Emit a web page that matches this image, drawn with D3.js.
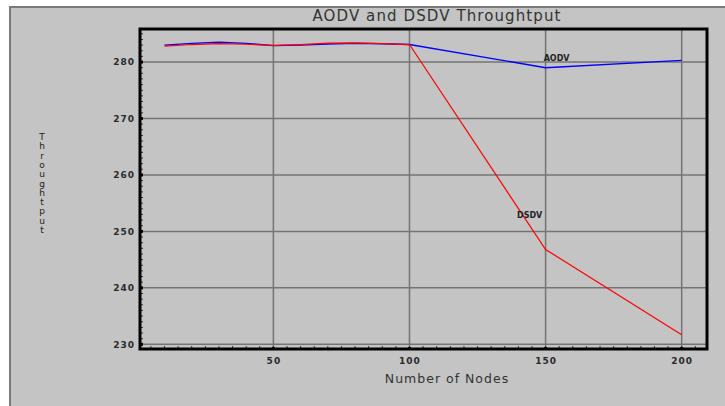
<!DOCTYPE html>
<html>
<head>
<meta charset="utf-8">
<script src="https://cdn.jsdelivr.net/npm/d3@7.9.0/dist/d3.min.js"></script>
<style>
  html, body { margin: 0; padding: 0; background: #fff; }
  svg { display: block; font-family: "DejaVu Sans", sans-serif; }
</style>
</head>
<body>
<svg id="chart" width="725" height="406"></svg>
<script>
const nodes = [10, 20, 30, 40, 50, 60, 70, 80, 90, 100, 150, 200];
const aodv = [283.0, 283.3, 283.5, 283.3, 282.9, 283.0, 283.2, 283.3, 283.25, 283.1, 279.0, 280.3];
const dsdv = [282.8, 283.1, 283.25, 283.15, 282.95, 283.1, 283.35, 283.4, 283.25, 283.1, 246.8, 231.7];
const xTicks = [50, 100, 150, 200];
const yTicks = [230, 240, 250, 260, 270, 280];
const yLabel = 'Throughtput';

const svg = d3.select('#chart');

// gray panel
svg.append('rect')
    .attr('x', 10).attr('y', 7)
    .attr('width', 725).attr('height', 410)
    .attr('fill', '#c4c4c4')
    .attr('stroke', '#7a7a7a')
    .attr('stroke-width', 2);

const plotL = 140, plotR = 707, plotT = 29, plotB = 349;

const x = d3.scaleLinear().domain([1, 209.3]).range([plotL, plotR]);
const y = d3.scaleLinear().domain([229.17, 285.85]).range([plotB, plotT]);

// grid
svg.append('g')
  .selectAll('line')
  .data(xTicks)
  .join('line')
    .attr('x1', d => x(d)).attr('x2', d => x(d))
    .attr('y1', plotT).attr('y2', plotB)
    .attr('stroke', '#747474')
    .attr('stroke-width', 1.5);

svg.append('g')
  .selectAll('line')
  .data(yTicks)
  .join('line')
    .attr('x1', plotL).attr('x2', plotR)
    .attr('y1', d => y(d)).attr('y2', d => y(d))
    .attr('stroke', '#747474')
    .attr('stroke-width', 1.5);

// minor ticks
svg.append('g')
  .selectAll('line')
  .data(d3.range(5, 210, 5))
  .join('line')
    .attr('x1', d => x(d)).attr('x2', d => x(d))
    .attr('y1', plotB - 3).attr('y2', plotB)
    .attr('stroke', '#333')
    .attr('stroke-width', 1);

svg.append('g')
  .selectAll('line')
  .data(d3.range(230, 286, 1))
  .join('line')
    .attr('x1', plotL).attr('x2', plotL + 3)
    .attr('y1', d => y(d)).attr('y2', d => y(d))
    .attr('stroke', '#333')
    .attr('stroke-width', 1);

// lines
const line = d3.line()
    .x((d, i) => x(nodes[i]))
    .y(d => y(d));

svg.append('path')
    .attr('d', line(aodv))
    .attr('fill', 'none')
    .attr('stroke', '#0000ff')
    .attr('stroke-width', 1.4);

svg.append('path')
    .attr('d', line(dsdv))
    .attr('fill', 'none')
    .attr('stroke', '#ff0000')
    .attr('stroke-width', 1.2);

// frame
svg.append('rect')
    .attr('x', plotL).attr('y', plotT)
    .attr('width', plotR - plotL).attr('height', plotB - plotT)
    .attr('fill', 'none')
    .attr('stroke', '#000')
    .attr('stroke-width', 3);

// axes labels
const xAxis = d3.axisBottom(x).tickValues(xTicks).tickSize(0).tickPadding(9);
svg.append('g')
    .attr('transform', `translate(0,${plotB})`)
    .call(xAxis)
    .call(g => g.select('.domain').remove())
    .call(g => g.selectAll('text')
        .attr('font-family', 'DejaVu Sans')
        .attr('font-size', 9)
        .attr('font-weight', 'bold')
        .attr('letter-spacing', 1)
        .attr('fill', '#2a2a2a'));

const yAxis = d3.axisLeft(y).tickValues(yTicks).tickSize(0).tickPadding(5);
svg.append('g')
    .attr('transform', `translate(${plotL},0)`)
    .call(yAxis)
    .call(g => g.select('.domain').remove())
    .call(g => g.selectAll('text')
        .attr('font-family', 'DejaVu Sans')
        .attr('font-size', 9)
        .attr('font-weight', 'bold')
        .attr('letter-spacing', 1)
        .attr('fill', '#2a2a2a'));

// major tick dots
svg.append('g')
  .selectAll('rect')
  .data(xTicks)
  .join('rect')
    .attr('x', d => x(d) - 1.5).attr('y', plotB - 2)
    .attr('width', 3).attr('height', 3)
    .attr('fill', '#000');

svg.append('g')
  .selectAll('rect')
  .data(yTicks)
  .join('rect')
    .attr('x', plotL).attr('y', d => y(d) - 1.5)
    .attr('width', 3).attr('height', 3)
    .attr('fill', '#000');

// series labels
svg.append('text')
    .attr('x', x(149.3)).attr('y', y(280.2))
    .attr('font-size', 8).attr('font-weight', 'bold')
    .attr('fill', '#222')
    .text('AODV');

svg.append('text')
    .attr('x', x(139.5)).attr('y', y(252.3))
    .attr('font-size', 8).attr('font-weight', 'bold')
    .attr('fill', '#222')
    .text('DSDV');

// title
svg.append('text')
    .attr('x', 437).attr('y', 21)
    .attr('text-anchor', 'middle')
    .attr('font-size', 15)
    .attr('letter-spacing', 1.1)
    .attr('fill', '#333')
    .text('AODV and DSDV Throughtput');

// x label
svg.append('text')
    .attr('x', 447).attr('y', 383)
    .attr('text-anchor', 'middle')
    .attr('font-size', 12.5)
    .attr('letter-spacing', 1)
    .attr('fill', '#333')
    .text('Number of Nodes');

// y label, stacked letters
svg.append('g')
  .selectAll('text')
  .data(yLabel.split(''))
  .join('text')
    .attr('x', 42)
    .attr('y', (d, i) => 140 + i * 9.3)
    .attr('text-anchor', 'middle')
    .attr('font-size', 9)
    .attr('fill', '#222')
    .text(d => d);
</script>
</body>
</html>
